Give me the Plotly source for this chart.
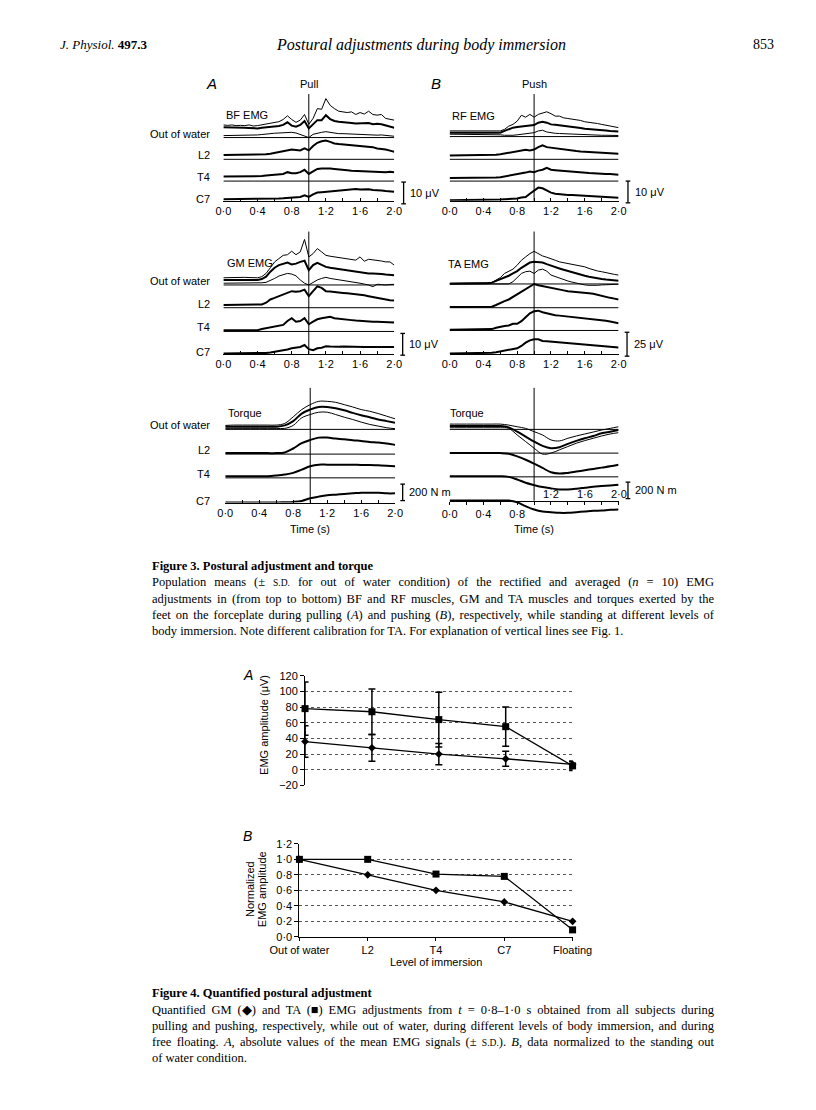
import json
import plotly.graph_objects as go

W, H = 816, 1110
SANS = "Liberation Sans, Arial, sans-serif"
SERIF = "Liberation Serif, Times New Roman, serif"

# ---------------- Figure 3 data (values above each trace's own baseline) ----------------
TIME_EMG = [0.0, 0.05, 0.1, 0.15, 0.2, 0.25, 0.3, 0.35, 0.4, 0.45, 0.5, 0.55, 0.6, 0.65, 0.7,
            0.75, 0.8, 0.85, 0.9, 0.95, 1.0, 1.05, 1.1, 1.15, 1.2, 1.25, 1.3, 1.35, 1.4, 1.45,
            1.5, 1.55, 1.6, 1.65, 1.7, 1.75, 1.8, 1.85, 1.9, 1.95, 2.0]
TIME_TORQUE = [0.0, 0.1, 0.2, 0.3, 0.4, 0.5, 0.6, 0.7, 0.8, 0.9, 1.0, 1.1, 1.2, 1.3, 1.4, 1.5,
               1.6, 1.7, 1.8, 1.9, 2.0]

# BF EMG (pull), microvolts
BF_OOW_UPPER = [5.8, 5.6, 5.8, 5.5, 5.6, 5.5, 5.8, 5.3, 5.5, 5.8, 6.1, 6.4, 6.7, 7.3, 8.3, 10.0, 8.3, 7.0, 8.0, 10.6,
                6.1, 8.8, 13.3, 13.0, 17.9, 14.8, 13.3, 12.1, 11.8, 11.5, 11.8, 10.6, 11.5, 10.8, 12.1, 10.6, 10.3, 10.6, 8.8, 8.3, 8.0]
BF_OOW_MEAN = [4.7, 4.7, 4.8, 4.5, 4.7, 4.5, 4.4, 4.2, 4.2, 4.5, 4.7, 4.8, 5.0, 5.3, 5.8, 7.0, 5.5, 5.0, 5.8, 7.6,
               4.2, 6.1, 8.0, 8.0, 10.3, 8.5, 7.6, 7.3, 7.0, 7.0, 6.7, 6.5, 6.5, 6.4, 6.7, 6.1, 6.4, 6.1, 5.5, 4.8, 4.5]
BF_OOW_LOWER = [0.9, 0.9, 1.1, 0.9, 1.1, 0.9, 1.1, 1.2, 1.2, 1.4, 1.7, 1.8, 2.0, 2.1, 2.3, 2.3, 2.4, 2.1, 1.5, 0.8,
                0.0, 1.5, 2.1, 2.4, 2.7, 2.3, 2.0, 1.8, 1.8, 1.7, 1.5, 1.4, 1.5, 1.4, 1.2, 1.1, 1.1, 1.2, 0.9, 0.8, 0.6]
BF_L2 = [2.0, 2.0, 2.1, 2.0, 2.1, 2.0, 2.1, 2.1, 2.3, 2.3, 2.3, 2.6, 3.0, 3.5, 3.8, 4.1, 4.5, 4.3, 4.1, 5.0,
         4.1, 6.1, 7.6, 8.3, 8.6, 8.0, 7.3, 7.0, 6.8, 6.8, 6.4, 6.4, 6.1, 6.1, 5.6, 5.6, 5.0, 4.8, 4.5, 4.0, 3.5]
BF_T4 = [2.1, 2.1, 2.1, 2.1, 2.1, 2.1, 2.1, 2.1, 2.1, 2.3, 2.6, 2.8, 3.0, 3.2, 3.3, 4.1, 3.6, 3.6, 4.1, 5.2,
         3.3, 4.5, 5.6, 5.8, 5.9, 5.8, 5.6, 5.5, 5.2, 5.0, 4.8, 4.7, 4.5, 4.5, 4.5, 4.3, 4.1, 4.3, 4.1, 4.3, 4.1]
BF_C7 = [0.8, 0.8, 0.8, 0.8, 0.8, 0.8, 0.8, 0.9, 0.9, 0.9, 0.9, 1.0, 1.0, 1.1, 1.2, 1.3, 1.5, 1.6, 1.8, 2.6,
         1.8, 3.0, 3.8, 4.0, 4.2, 4.3, 4.5, 4.6, 4.8, 5.0, 5.2, 5.5, 5.2, 5.3, 5.3, 5.0, 5.0, 4.8, 4.5, 4.3, 4.2]

# RF EMG (push), microvolts
RF_OOW_UPPER = [2.6, 2.6, 2.6, 2.5, 2.5, 2.5, 2.4, 2.4, 2.4, 2.3, 2.3, 2.3, 2.6, 3.3, 4.8, 5.6, 7.1, 9.8, 8.9, 10.2,
                8.9, 10.2, 10.9, 11.4, 10.5, 9.4, 9.4, 8.6, 8.3, 8.0, 7.9, 7.4, 6.8, 6.6, 6.4, 6.0, 5.6, 5.2, 4.8, 4.5, 4.1]
RF_OOW_MEAN = [1.8, 1.8, 1.8, 1.8, 1.8, 1.7, 1.7, 1.7, 1.7, 1.7, 1.7, 1.7, 1.8, 2.6, 3.3, 4.1, 4.4, 4.6, 4.8, 5.0,
               5.3, 6.4, 6.8, 6.4, 5.6, 5.4, 5.2, 5.0, 4.8, 4.5, 4.1, 3.9, 3.6, 3.5, 3.3, 3.1, 2.9, 2.8, 2.6, 2.5, 2.3]
RF_OOW_LOWER = [1.1, 1.1, 1.1, 1.1, 1.1, 1.1, 1.1, 1.1, 1.1, 1.1, 1.1, 0.9, 0.8, 0.6, 0.5, 0.6, 0.8, 1.1, 1.4, 1.6,
                1.8, 2.6, 2.9, 2.1, 1.7, 1.5, 1.4, 1.3, 1.1, 1.0, 1.0, 0.9, 0.8, 0.8, 0.7, 0.7, 0.6, 0.6, 0.6, 0.5, 0.5]
RF_L2 = [1.8, 1.8, 1.8, 1.8, 1.8, 1.9, 1.9, 1.9, 2.0, 2.0, 2.0, 2.1, 2.3, 2.6, 2.9, 3.2, 3.5, 4.1, 4.4, 4.1,
         4.5, 5.6, 6.4, 5.6, 5.3, 5.0, 4.8, 4.6, 4.4, 4.1, 3.8, 3.6, 3.5, 3.3, 3.2, 3.1, 3.0, 2.9, 2.7, 2.6, 2.6]
RF_T4 = [1.4, 1.4, 1.4, 1.4, 1.4, 1.4, 1.4, 1.5, 1.5, 1.5, 1.5, 1.6, 1.8, 2.1, 2.4, 2.7, 3.0, 3.5, 3.9, 4.4,
         4.1, 4.8, 5.2, 6.1, 5.2, 5.0, 4.8, 4.6, 4.5, 4.3, 4.2, 4.0, 3.9, 3.7, 3.6, 3.4, 3.3, 3.2, 3.2, 3.0, 2.9]
RF_C7 = [0.3, 0.3, 0.3, 0.3, 0.4, 0.4, 0.4, 0.4, 0.5, 0.5, 0.5, 0.5, 0.6, 0.7, 0.8, 0.9, 1.1, 1.5, 1.8, 3.3,
         4.8, 6.1, 5.8, 4.8, 3.8, 3.3, 3.0, 2.9, 2.7, 2.7, 2.6, 2.5, 2.3, 2.2, 2.1, 2.0, 1.8, 1.7, 1.5, 1.5, 1.4]

# GM EMG (pull), microvolts
GM_OOW_UPPER = [3.3, 3.4, 3.4, 3.5, 3.5, 3.5, 3.4, 3.4, 3.3, 3.8, 5.3, 7.9, 10.6, 12.1, 13.6, 13.9, 15.5, 13.9, 15.2, 20.9,
                12.9, 14.4, 16.7, 15.2, 13.6, 13.2, 12.9, 12.6, 12.4, 12.1, 11.8, 11.4, 12.9, 10.9, 11.8, 11.6, 11.4, 11.0, 10.6, 10.6, 9.1]
GM_OOW_MEAN = [2.3, 2.3, 2.3, 2.3, 2.3, 2.3, 2.3, 2.3, 2.3, 2.7, 3.8, 6.1, 7.9, 9.1, 9.8, 10.3, 9.4, 9.8, 10.6, 11.1,
               6.8, 9.1, 10.2, 9.1, 8.3, 7.9, 7.6, 7.2, 6.8, 6.6, 6.4, 6.1, 5.8, 5.5, 5.3, 5.3, 5.3, 5.0, 4.8, 4.6, 4.5]
GM_OOW_LOWER = [0.8, 0.8, 0.8, 0.8, 0.8, 0.8, 0.8, 0.8, 0.8, 1.0, 1.2, 2.0, 3.0, 4.1, 4.8, 5.3, 5.0, 4.2, 2.3, 0.8,
                0.0, 1.2, 2.3, 3.0, 3.5, 3.0, 2.7, 2.5, 2.3, 1.9, 1.5, 1.2, 0.8, 0.4, 0.0, -0.8, 0.3, 0.2, 0.0, 0.2, 0.3]
GM_L2 = [1.2, 1.2, 1.2, 1.2, 1.2, 1.2, 1.2, 1.2, 1.2, 1.5, 2.3, 3.8, 4.5, 5.3, 6.1, 6.8, 7.6, 7.3, 7.6, 8.3,
         5.3, 7.6, 9.8, 9.1, 7.6, 7.4, 7.3, 7.0, 6.8, 6.6, 6.4, 6.2, 6.1, 5.7, 5.3, 4.9, 4.5, 4.1, 3.6, 3.4, 3.3]
GM_T4 = [0.6, 0.6, 0.6, 0.6, 0.6, 0.6, 0.6, 0.6, 0.6, 1.1, 1.5, 1.8, 2.1, 2.6, 3.0, 4.8, 6.1, 4.5, 4.8, 6.1,
         3.3, 4.5, 5.6, 6.1, 6.4, 6.7, 6.1, 5.8, 5.6, 5.4, 5.2, 5.0, 4.8, 4.6, 4.5, 4.5, 4.5, 4.4, 4.2, 4.1, 4.1]
GM_C7 = [0.3, 0.3, 0.3, 0.3, 0.4, 0.4, 0.4, 0.5, 0.5, 0.5, 0.6, 0.8, 1.1, 1.4, 1.8, 2.2, 2.7, 3.0, 3.3, 4.2,
         2.3, 1.8, 2.7, 3.0, 3.6, 3.5, 3.3, 3.4, 3.5, 3.4, 3.3, 3.2, 3.2, 3.3, 3.3, 3.3, 3.3, 3.3, 3.3, 3.3, 3.3]

# TA EMG (push), microvolts
TA_OOW_UPPER = [0.7, 0.7, 0.7, 0.7, 0.7, 0.7, 0.7, 0.7, 0.7, 0.7, 1.4, 4.1, 6.6, 11.0, 13.4, 15.5, 19.7, 24.8, 28.3, 31.7,
                34.1, 31.7, 29.3, 27.9, 26.6, 24.8, 23.1, 22.2, 21.4, 20.7, 19.7, 18.6, 17.9, 16.2, 14.5, 13.6, 12.8, 11.7, 11.0, 10.0, 9.3]
TA_OOW_MEAN = [0.3, 0.3, 0.3, 0.3, 0.3, 0.3, 0.3, 0.3, 0.3, 0.7, 1.4, 3.1, 5.2, 6.9, 8.6, 11.0, 13.4, 16.9, 19.7, 22.4,
               23.1, 23.1, 22.4, 20.7, 19.0, 17.6, 16.2, 14.8, 13.4, 12.2, 11.0, 9.7, 8.6, 7.6, 6.6, 5.9, 5.2, 4.6, 4.1, 3.8, 3.4]
TA_OOW_LOWER = [0.0, 0.0, 0.0, 0.0, 0.0, 0.0, 0.0, 0.0, 0.0, 0.0, 0.0, 0.0, 0.0, 0.0, 0.0, 2.4, 6.6, 11.0, 12.8, 13.4,
                11.0, 14.5, 15.5, 13.4, 9.3, 7.6, 5.9, 4.5, 3.1, 1.9, 0.7, -0.2, -1.0, -1.4, -1.7, -1.4, -1.0, -0.7, -0.3, -0.3, -0.3]
TA_L2 = [0.7, 0.7, 0.7, 0.7, 0.7, 0.7, 0.7, 0.7, 0.7, 0.8, 1.0, 2.8, 5.2, 6.9, 8.6, 11.2, 13.8, 16.4, 19.0, 22.4,
         24.8, 23.4, 22.4, 21.6, 20.7, 19.8, 19.0, 18.1, 17.2, 16.9, 16.6, 16.1, 15.5, 15.0, 14.5, 13.3, 12.1, 11.2, 10.3, 9.5, 8.6]
TA_T4 = [0.7, 0.7, 0.7, 0.7, 0.7, 0.7, 0.7, 0.7, 0.8, 1.0, 1.4, 2.8, 4.1, 4.7, 5.2, 6.9, 6.9, 9.7, 13.8, 17.9,
         20.0, 20.7, 19.0, 17.8, 16.6, 16.0, 15.5, 15.0, 14.5, 14.1, 13.8, 13.5, 13.1, 12.6, 12.1, 11.6, 11.0, 10.2, 9.3, 8.5, 7.6]
TA_C7 = [0.7, 0.7, 0.7, 0.7, 0.7, 0.7, 0.7, 0.7, 0.8, 1.0, 1.4, 2.1, 2.8, 3.4, 4.1, 5.2, 6.2, 8.6, 12.1, 14.5,
         15.5, 15.5, 13.8, 13.5, 13.1, 12.6, 12.1, 11.6, 11.0, 10.7, 10.3, 10.0, 9.7, 9.1, 8.6, 8.4, 8.3, 7.9, 7.6, 7.2, 6.9]

# Torque, N m
PULL_OOW_UPPER = [48, 52, 52, 52, 52, 52, 52, 72, 152, 240, 300, 340, 340, 328, 300, 272, 240, 220, 192, 160, 128]
PULL_OOW_MEAN = [32, 32, 32, 32, 32, 32, 32, 48, 100, 192, 240, 272, 272, 256, 232, 200, 172, 148, 120, 100, 80]
PULL_OOW_LOWER = [12, 12, 12, 12, 12, 12, 12, 12, 48, 140, 180, 208, 208, 180, 148, 120, 88, 60, 40, 20, 8]
PULL_L2 = [12, 12, 12, 12, 12, 12, 12, 20, 68, 132, 172, 200, 200, 188, 180, 168, 160, 148, 140, 128, 112]
PULL_T4 = [20, 20, 20, 20, 20, 20, 28, 40, 60, 100, 140, 160, 160, 160, 160, 160, 156, 156, 152, 148, 140]
PULL_C7 = [0, 0, 0, 0, 0, 0, 0, 4, 8, 20, 52, 72, 88, 96, 104, 112, 120, 120, 120, 112, 112]

PUSH_OOW_UPPER = [64, 64, 64, 64, 64, 64, 64, 52, 32, 12, -28, -68, -128, -140, -108, -80, -56, -32, -8, 12, 32]
PUSH_OOW_MEAN = [40, 40, 40, 40, 40, 40, 40, 24, -28, -88, -148, -200, -228, -216, -176, -140, -108, -80, -48, -28, -8]
PUSH_OOW_LOWER = [20, 20, 20, 20, 20, 20, 20, 12, -68, -148, -228, -300, -288, -248, -208, -168, -136, -108, -80, -56, -40]
PUSH_L2 = [0, 0, 0, 0, 0, 0, 0, -8, -40, -80, -128, -180, -232, -248, -240, -224, -208, -192, -176, -160, -140]
PUSH_T4 = [8, 8, 8, 8, 8, 8, 8, 0, -32, -72, -100, -124, -140, -152, -152, -144, -132, -120, -112, -104, -96]
PUSH_C7 = [0, 0, 0, 0, 0, 0, 0, 0, -20, -68, -108, -132, -140, -148, -148, -140, -132, -124, -120, -112, -108]

TIME_TICKS = [0.0, 0.2, 0.4, 0.6, 0.8, 1.0, 1.2, 1.4, 1.6, 1.8, 2.0]
TIME_TICKTEXT = ["0·0", "", "0·4", "", "0·8", "", "1·2", "", "1·6", "", "2·0"]
ROW_LABELS = ["Out of water", "L2", "T4", "C7"]

# ---------------- Figure 4 data ----------------
LEVELS = ["Out of water", "L2", "T4", "C7", "Floating"]
GM_ABS = [36, 28, 20, 14, 7]
GM_ABS_SD = [20, 17, 13.5, 9.5, 4]
TA_ABS = [78, 74, 64, 55, 5]
TA_ABS_SD = [34, 29, 35, 25, 6]
GM_NORM = [1.0, 0.8, 0.6, 0.45, 0.2]
TA_NORM = [1.0, 1.0, 0.81, 0.78, 0.09]
A_TICKS = [-20, 0, 20, 40, 60, 80, 100, 120]
B_TICKS = [0.0, 0.2, 0.4, 0.6, 0.8, 1.0, 1.2]
B_TICKTEXT = ["0·0", "0·2", "0·4", "0·6", "0·8", "1·0", "1·2"]

# ---------------- helpers ----------------
def py(p):
    return 1 - p / H

def px(p):
    return p / W

def axname(i, a):
    return f"{a}axis" if i == 1 else f"{a}axis{i}"

def axref(i, a):
    return a if i == 1 else f"{a}{i}"

fig = go.Figure()
layout = dict(width=W, height=H, margin=dict(l=0, r=0, t=0, b=0), paper_bgcolor="white",
              plot_bgcolor="rgba(0,0,0,0)", showlegend=False,
              font=dict(family=SANS, size=11, color="black"))
shapes = []
annotations = []

def text(s, x, y, size=11, xanchor="center", family=SANS, yanchor="middle", **kw):
    annotations.append(dict(text=s, x=px(x), y=py(y), xref="paper", yref="paper", showarrow=False,
                            xanchor=xanchor, yanchor=yanchor,
                            font=dict(family=family, size=size, color="black"), **kw))
    return len(annotations) - 1

def pline(x0, y0, x1, y1, w=1):
    shapes.append(dict(type="line", xref="paper", yref="paper", x0=px(x0), y0=py(y0), x1=px(x1), y1=py(y1),
                       line=dict(color="black", width=w)))

# ---------------- Figure 3 panels ----------------
PANEL_LAYOUT = [
    dict(x0=206, x1=388, axis=197, top=89, bottom=197, upp=1 / 2.2, rows=[133, 155, 177],
         bar_x=398, bar_bottom=200, bar_val=10, bar_text="10 μV", smooth=False),
    dict(x0=447, x1=627, axis=197, top=89, bottom=197, upp=1 / 2.2, rows=[132, 155, 177],
         bar_x=637, bar_bottom=199, bar_val=10, bar_text="10 μV", smooth=False),
    dict(x0=206, x1=388, axis=352, top=228, bottom=352, upp=1 / 2.2, rows=[282, 305, 329],
         bar_x=397, bar_bottom=353, bar_val=10, bar_text="10 μV", smooth=False),
    dict(x0=447, x1=627, axis=352, top=228, bottom=352, upp=1 / 0.967, rows=[281, 305, 328],
         bar_x=636, bar_bottom=354, bar_val=25, bar_text="25 μV", smooth=False),
    dict(x0=208, x1=389, axis=502, top=386, bottom=502, upp=12, rows=[428, 453, 477],
         bar_x=397, bar_bottom=500, bar_val=200, bar_text="200 N m", smooth=True),
    dict(x0=447, x1=627, axis=500, top=386, bottom=518, upp=12, rows=[428, 452, 476],
         bar_x=637, bar_bottom=498, bar_val=200, bar_text="200 N m", smooth=True),
]
PANEL_DATA = [
    (TIME_EMG, BF_OOW_UPPER, BF_OOW_MEAN, BF_OOW_LOWER, BF_L2, BF_T4, BF_C7),
    (TIME_EMG, RF_OOW_UPPER, RF_OOW_MEAN, RF_OOW_LOWER, RF_L2, RF_T4, RF_C7),
    (TIME_EMG, GM_OOW_UPPER, GM_OOW_MEAN, GM_OOW_LOWER, GM_L2, GM_T4, GM_C7),
    (TIME_EMG, TA_OOW_UPPER, TA_OOW_MEAN, TA_OOW_LOWER, TA_L2, TA_T4, TA_C7),
    (TIME_TORQUE, PULL_OOW_UPPER, PULL_OOW_MEAN, PULL_OOW_LOWER, PULL_L2, PULL_T4, PULL_C7),
    (TIME_TORQUE, PUSH_OOW_UPPER, PUSH_OOW_MEAN, PUSH_OOW_LOWER, PUSH_L2, PUSH_T4, PUSH_C7),
]

for i, (lay, data) in enumerate(zip(PANEL_LAYOUT, PANEL_DATA), start=1):
    t, up, mean, low, l2, t4, c7 = data
    upp = lay["upp"]
    base = [(lay["axis"] - r) * upp for r in lay["rows"]] + [0.0]
    series = [(up, base[0], 1.0), (mean, base[0], 2.0), (low, base[0], 1.0),
              (l2, base[1], 2.0), (t4, base[2], 2.0), (c7, base[3], 2.0)]
    for vals, b, w in series:
        fig.add_trace(go.Scatter(x=t, y=[v + b for v in vals], mode="lines",
                                 line=dict(color="black", width=w,
                                           shape="spline" if lay["smooth"] else "linear"),
                                 xaxis=axref(i, "x"), yaxis=axref(i, "y"), hoverinfo="skip"))
    ticktext = list(TIME_TICKTEXT)
    if i == 6:
        ticktext = ticktext[:5] + [""] * 6
    layout[axname(i, "x")] = dict(domain=[px(lay["x0"]), px(lay["x1"])], range=[0, 2], anchor="free",
                                  position=py(lay["axis"]), showline=True, linecolor="black", linewidth=1,
                                  ticks="outside" if i == 6 else "inside", ticklen=3, tickcolor="black",
                                  tickwidth=1, tickvals=TIME_TICKS, ticktext=ticktext, showgrid=False,
                                  zeroline=False, tickfont=dict(size=11, family=SANS, color="black"),
                                  fixedrange=True)
    layout[axname(i, "y")] = dict(domain=[py(lay["bottom"]), py(lay["top"])],
                                  range=[-(lay["bottom"] - lay["axis"]) * upp, (lay["axis"] - lay["top"]) * upp],
                                  visible=False, fixedrange=True)
    for b in base[:3]:
        shapes.append(dict(type="line", xref=axref(i, "x"), yref=axref(i, "y"), x0=0, x1=2, y0=b, y1=b,
                           line=dict(color="black", width=1)))
    shapes.append(dict(type="line", xref=axref(i, "x"), yref="paper", x0=1.0, x1=1.0,
                       y0=py(lay["axis"]), y1=py(lay["top"]), line=dict(color="black", width=1)))
    # calibration bar
    hbar = lay["bar_val"] / upp
    bx, bb = lay["bar_x"], lay["bar_bottom"]
    pline(bx, bb, bx, bb - hbar, 1.3)
    pline(bx - 2.5, bb, bx + 2.5, bb, 1.3)
    pline(bx - 2.5, bb - hbar, bx + 2.5, bb - hbar, 1.3)
    text(lay["bar_text"], bx + 5, bb - hbar / 2, xanchor="left")
    # row labels on left panels
    if i in (1, 3, 5):
        for lab, r in zip(ROW_LABELS, lay["rows"] + [lay["axis"]]):
            text(lab, 194, r - 4 if lab != "C7" else r - 2, xanchor="right")

# tick labels of the push torque panel that sit above the axis
for v, s in zip([1.2, 1.6, 2.0], ["1·2", "1·6", "2·0"]):
    annotations.append(dict(text=s, x=v, xref="x6", y=py(493), yref="paper", showarrow=False,
                            xanchor="center", yanchor="middle", font=dict(family=SANS, size=11, color="black")))

text("<i>A</i>", 193, 78, size=15)
text("Pull", 297, 79)
text("<i>B</i>", 432, 78, size=15)
text("Push", 537, 79)
text("BF EMG", 207, 110, xanchor="left")
text("RF EMG", 447, 111, xanchor="left")
text("GM EMG", 208, 260, xanchor="left")
text("TA EMG", 443, 261, xanchor="left")
text("Torque", 209, 411, xanchor="left")
text("Torque", 445, 411, xanchor="left")
text("Time (s)", 298, 529)
text("Time (s)", 537, 529)

# ---------------- Figure 4A ----------------
fig.add_trace(go.Scatter(x=[0, 1, 2, 3, 4], y=TA_ABS, mode="lines+markers",
                         line=dict(color="black", width=1.3),
                         marker=dict(symbol="square", size=7, color="black"),
                         error_y=dict(type="data", array=TA_ABS_SD, color="black", thickness=1.5, width=3.5),
                         xaxis="x7", yaxis="y7", cliponaxis=False, hoverinfo="skip"))
fig.add_trace(go.Scatter(x=[0, 1, 2, 3, 4], y=GM_ABS, mode="lines+markers",
                         line=dict(color="black", width=1.3),
                         marker=dict(symbol="diamond", size=6, color="black"),
                         error_y=dict(type="data", array=GM_ABS_SD, color="black", thickness=1.5, width=3.5),
                         xaxis="x7", yaxis="y7", cliponaxis=False, hoverinfo="skip"))
layout["xaxis7"] = dict(domain=[px(293), px(578)], range=[0, 4], anchor="y7", showline=False, showgrid=False,
                        zeroline=False, showticklabels=False, ticks="", fixedrange=True)
layout["yaxis7"] = dict(domain=[py(788), py(677)], range=[-20, 120], anchor="x7", tickvals=A_TICKS,
                        ticks="outside", ticklen=4, tickcolor="black", showline=True, linecolor="black",
                        linewidth=1, showgrid=True, gridcolor="#555", griddash="dot", gridwidth=1,
                        zeroline=False, tickfont=dict(size=11, family=SANS, color="black"), fixedrange=True)
text("<i>A</i>", 232, 676, size=14)
text("EMG amplitude (μV)", 249, 727, textangle=-90)

# ---------------- Figure 4B ----------------
fig.add_trace(go.Scatter(x=[0, 1, 2, 3, 4], y=TA_NORM, mode="lines+markers",
                         line=dict(color="black", width=1.3),
                         marker=dict(symbol="square", size=7, color="black"),
                         xaxis="x8", yaxis="y8", cliponaxis=False, hoverinfo="skip"))
fig.add_trace(go.Scatter(x=[0, 1, 2, 3, 4], y=GM_NORM, mode="lines+markers",
                         line=dict(color="black", width=1.3),
                         marker=dict(symbol="diamond", size=6, color="black"),
                         xaxis="x8", yaxis="y8", cliponaxis=False, hoverinfo="skip"))
layout["xaxis8"] = dict(domain=[px(287), px(578)], range=[0, 4], anchor="y8", showline=True, linecolor="black",
                        linewidth=1, showgrid=False, zeroline=False, tickvals=[0, 1, 2, 3, 4], ticktext=LEVELS,
                        ticks="outside", ticklen=3, tickcolor="black",
                        tickfont=dict(size=11, family=SANS, color="black"), fixedrange=True)
layout["yaxis8"] = dict(domain=[py(941), py(847)], range=[0, 1.2], anchor="x8", tickvals=B_TICKS,
                        ticktext=B_TICKTEXT, ticks="outside", ticklen=4, tickcolor="black", showline=True,
                        linecolor="black", linewidth=1, showgrid=True, gridcolor="#555", griddash="dot",
                        gridwidth=1, zeroline=False, tickfont=dict(size=11, family=SANS, color="black"),
                        fixedrange=True)
text("<i>B</i>", 232, 839, size=14)
text("Normalized", 235, 893, textangle=-90)
text("EMG amplitude", 248, 893, textangle=-90)
text("Level of immersion", 432, 966)

# ---------------- Page text ----------------
text("<i>J. Physiol.</i> <b>497.3</b>", 30, 39, size=13, xanchor="left", family=SERIF)
text("<i>Postural adjustments during body immersion</i>", 416, 39, size=16, family=SERIF)
text("853", 795, 39, size=14, xanchor="right", family=SERIF)

SD = "<span style='font-size:9.5px'>S.D.</span>"
CAP3 = [
    "<b>Figure 3. Postural adjustment and torque</b>",
    f"Population means (± {SD} for out of water condition) of the rectified and averaged (<i>n</i> = 10) EMG",
    "adjustments in (from top to bottom) BF and RF muscles, GM and TA muscles and torques exerted by the",
    "feet on the forceplate during pulling (<i>A</i>) and pushing (<i>B</i>), respectively, while standing at different levels of",
    "body immersion. Note different calibration for TA. For explanation of vertical lines see Fig. 1.",
]
CAP4 = [
    "<b>Figure 4. Quantified postural adjustment</b>",
    "Quantified GM (◆) and TA (■) EMG adjustments from <i>t</i> = 0·8–1·0 s obtained from all subjects during",
    "pulling and pushing, respectively, while out of water, during different levels of body immersion, and during",
    f"free floating. <i>A</i>, absolute values of the mean EMG signals (± {SD}). <i>B</i>, data normalized to the standing out",
    "of water condition.",
]
CAP_LEFT, CAP_RIGHT = 128, 690
justify = []
for cap, y0 in ((CAP3, 566), (CAP4, 998)):
    for k, line in enumerate(cap):
        idx = text(line, CAP_LEFT, y0 + k * 16.5, size=12.5, xanchor="left", family=SERIF, align="left")
        if 1 <= k <= 3:
            justify.append(idx)

layout["shapes"] = shapes
layout["annotations"] = annotations
fig.update_layout(**layout)

# justify the caption lines (as in the printed page) by widening word gaps in the browser
JS = """
document.body.style.margin='0';document.body.style.overflow='hidden';
var gd=document.getElementById('{plot_id}');
var ids=IDS; var target=TARGET;
ids.forEach(function(k){
  var t=gd.querySelector('g.annotation[data-index="'+k+'"] text.annotation-text');
  if(!t){return;}
  var w=t.getComputedTextLength();
  var n=(t.textContent.match(/ /g)||[]).length;
  if(n>0 && w<target){t.style.wordSpacing=((target-w)/n)+'px';}
});
""".replace("IDS", json.dumps(justify)).replace("TARGET", str(CAP_RIGHT - CAP_LEFT))
fig.write_html("out.html", config={"displayModeBar": False}, post_script=JS)
